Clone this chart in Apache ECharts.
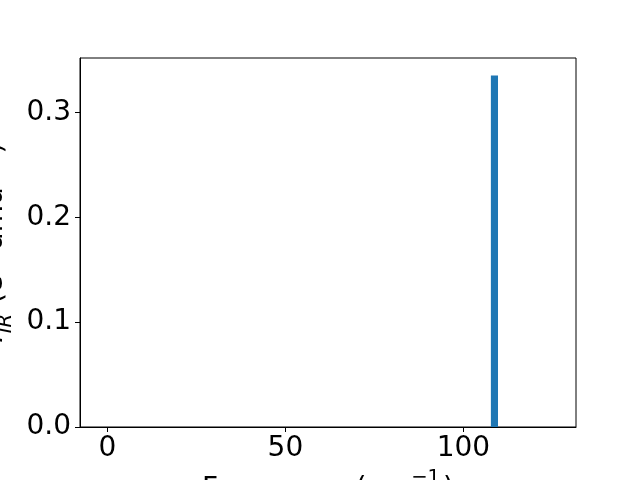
<!DOCTYPE html>
<html>
<head>
<meta charset="utf-8">
<script src="https://cdn.jsdelivr.net/npm/echarts@6/dist/echarts.min.js"></script>
<style>html,body{margin:0;padding:0;background:#fff}#c{width:640px;height:480px}</style>
</head>
<body>
<div id="c"></div>
<script>
const frequencies = [108.7];
const intensities = [0.335];
const xTicks = [0, 50, 100];
const yTicks = [0.0, 0.1, 0.2, 0.3];
const xLabel = 'Frequency (cm{p|−1})';
const yLabel = '{i|I}{s|IR} (e{p|2} amu{p|−1})';

const BAR_W = 2;
const FONT = 'DejaVu Sans';
const FS = 28;
const chart = echarts.init(document.getElementById('c'), null, {renderer: 'canvas'});
const richBase = {
  i: {fontFamily: FONT, fontSize: FS, fontStyle: 'italic', color: '#000'},
  s: {fontFamily: FONT, fontSize: 19.6, fontStyle: 'italic', color: '#000', verticalAlign: 'bottom', padding: [0, 1, -7, 1]},
  p: {fontFamily: FONT, fontSize: 19.6, color: '#000', verticalAlign: 'top', padding: [-8, 3, 0, 2]}
};
chart.setOption({
  animation: false,
  backgroundColor: '#fff',
  grid: {left: 80, right: 64, top: 58, bottom: 53, show: true, borderColor: '#000', borderWidth: 1, backgroundColor: 'transparent', outerBoundsMode: 'none', containLabel: false},
  xAxis: {
    type: 'value', min: -7.67, max: 131.6,
    name: xLabel, nameLocation: 'middle', nameGap: 41,
    nameTextStyle: {fontFamily: FONT, fontSize: FS, color: '#000', rich: richBase},
    axisLine: {show: true, onZero: false, lineStyle: {color: '#000', width: 1}},
    axisTick: {show: true, inside: false, length: 5, lineStyle: {color: '#000'}, customValues: xTicks},
    axisLabel: {fontFamily: FONT, fontSize: FS, color: '#000', margin: 8, customValues: xTicks, formatter: v => String(v)},
    splitLine: {show: false}
  },
  yAxis: {
    type: 'value', min: 0, max: 0.3518,
    name: yLabel, nameLocation: 'middle', nameGap: 66, nameRotate: 90,
    nameTextStyle: {fontFamily: FONT, fontSize: FS, color: '#000', rich: richBase},
    axisLine: {show: true, onZero: false, lineStyle: {color: '#000', width: 1}},
    axisTick: {show: true, inside: false, length: 5, lineStyle: {color: '#000'}, customValues: yTicks},
    axisLabel: {fontFamily: FONT, fontSize: FS, color: '#000', margin: 9, customValues: yTicks, formatter: v => v.toFixed(1)},
    splitLine: {show: false}
  },
  series: [{
    type: 'custom',
    data: frequencies.map((f, k) => [f, intensities[k]]),
    renderItem: function (params, api) {
      const x = api.value(0), y = api.value(1);
      const p1 = api.coord([x - BAR_W / 2, y]);
      const p2 = api.coord([x + BAR_W / 2, 0]);
      return {type: 'rect', shape: {x: p1[0], y: p1[1], width: p2[0] - p1[0], height: p2[1] - p1[1]}, style: {fill: '#1f77b4'}};
    }
  }]
});
</script>
</body>
</html>
